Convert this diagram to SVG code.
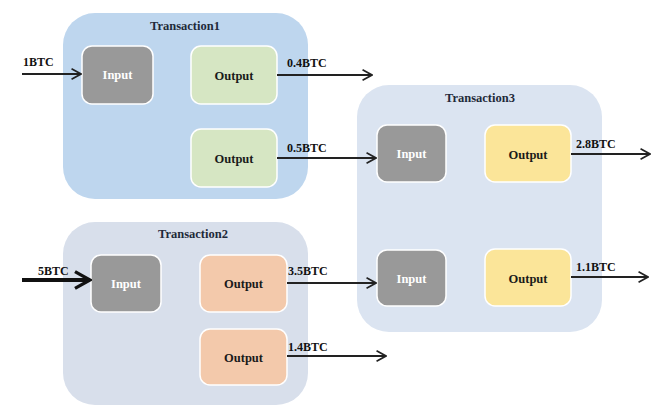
<svg xmlns="http://www.w3.org/2000/svg" width="670" height="413" viewBox="0 0 670 413">
<defs>
<style>
text{font-family:"Liberation Serif","Times New Roman",serif;font-weight:bold;}
.title{font-size:12.5px;fill:#1f2a3a;text-anchor:middle;}
.lbl{font-size:12px;fill:#111;}
.bt{font-size:12.5px;text-anchor:middle;}
.in{fill:#999999;stroke:#ffffff;stroke-width:1.5;}
.in-t{fill:#ffffff;}
.out-t{fill:#1a1a1a;}
.g{fill:#d6e6c3;stroke:#ffffff;stroke-width:1.5;}
.o{fill:#f3c9ab;stroke:#ffffff;stroke-width:1.5;}
.y{fill:#fbe599;stroke:#ffffff;stroke-width:1.5;}
.c{stroke:#222;stroke-width:1.8;fill:none;marker-end:url(#ah);}
</style>
<marker id="ah" viewBox="0 0 12 12" refX="11" refY="6" markerWidth="7" markerHeight="7" markerUnits="strokeWidth" orient="auto">
<polyline points="2,1 11,6 2,11" fill="none" stroke="#222" stroke-width="1.6"/>
</marker>
<marker id="ah2" viewBox="0 0 12 12" refX="11" refY="6" markerWidth="5" markerHeight="5" markerUnits="strokeWidth" orient="auto">
<polyline points="2,1 11,6 2,11" fill="none" stroke="#111" stroke-width="2"/>
</marker>
</defs>
<rect width="670" height="413" fill="#ffffff"/>
<g id="transaction1">
<rect x="63" y="13" width="245" height="186" rx="32" fill="#bed6ee"/>
<text class="title" x="185" y="30">Transaction1</text>
</g>
<g id="transaction2">
<rect x="63" y="222" width="245" height="183" rx="32" fill="#d8dfeb"/>
<text class="title" x="193" y="238">Transaction2</text>
</g>
<g id="transaction3">
<rect x="357" y="85" width="245" height="247" rx="32" fill="#dbe4f1"/>
<text class="title" x="480" y="102">Transaction3</text>
</g>
<g id="t1-input"><rect class="in" x="82" y="46" width="71" height="58" rx="10"/><text class="bt in-t" x="117.5" y="79">Input</text></g>
<g id="t1-output1"><rect class="g" x="191" y="46" width="86" height="58" rx="10"/><text class="bt out-t" x="234" y="80">Output</text></g>
<g id="t1-output2"><rect class="g" x="191" y="129" width="86" height="58" rx="10"/><text class="bt out-t" x="234" y="163">Output</text></g>
<g id="t2-input"><rect class="in" x="91" y="255" width="70" height="57" rx="10"/><text class="bt in-t" x="126" y="288">Input</text></g>
<g id="t2-output1"><rect class="o" x="200" y="255" width="87" height="57" rx="10"/><text class="bt out-t" x="243.5" y="288">Output</text></g>
<g id="t2-output2"><rect class="o" x="200" y="329" width="87" height="56" rx="10"/><text class="bt out-t" x="243.5" y="362">Output</text></g>
<g id="t3-input1"><rect class="in" x="377" y="125" width="69" height="57" rx="10"/><text class="bt in-t" x="411.5" y="158">Input</text></g>
<g id="t3-output1"><rect class="y" x="485" y="125" width="86" height="57" rx="10"/><text class="bt out-t" x="528" y="159">Output</text></g>
<g id="t3-input2"><rect class="in" x="377" y="250" width="69" height="56" rx="10"/><text class="bt in-t" x="411.5" y="283">Input</text></g>
<g id="t3-output2"><rect class="y" x="485" y="249" width="86" height="57" rx="10"/><text class="bt out-t" x="528" y="283">Output</text></g>
<g id="connectors">
<line class="c" x1="22" y1="74" x2="81" y2="74"/>
<line class="c" x1="277" y1="75" x2="372" y2="75"/>
<line class="c" x1="277" y1="158" x2="376" y2="158"/>
<line x1="22" y1="280" x2="90" y2="280" stroke="#111" stroke-width="4" fill="none" marker-end="url(#ah2)"/>
<line class="c" x1="287" y1="283" x2="376" y2="283"/>
<line class="c" x1="287" y1="356" x2="386" y2="356"/>
<line class="c" x1="571" y1="154" x2="650" y2="154"/>
<line class="c" x1="571" y1="277" x2="648" y2="277"/>
</g>
<g id="labels">
<text class="lbl" x="23" y="66">1BTC</text>
<text class="lbl" x="287" y="67">0.4BTC</text>
<text class="lbl" x="287" y="152">0.5BTC</text>
<text class="lbl" x="38" y="275">5BTC</text>
<text class="lbl" x="288" y="275">3.5BTC</text>
<text class="lbl" x="288" y="351">1.4BTC</text>
<text class="lbl" x="576" y="148">2.8BTC</text>
<text class="lbl" x="576" y="271">1.1BTC</text>
</g>
</svg>
